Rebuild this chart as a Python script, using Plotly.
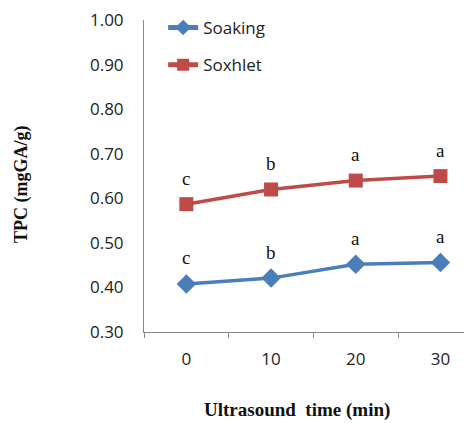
import plotly.graph_objects as go

time_min = [0, 10, 20, 30]
soaking = [0.408, 0.421, 0.452, 0.456]
soaking_err = [0.004, 0.004, 0.012, 0.004]
soxhlet = [0.587, 0.620, 0.640, 0.650]
soxhlet_err = [0.004, 0.004, 0.004, 0.004]
soaking_letters = ["c", "b", "a", "a"]
soxhlet_letters = ["c", "b", "a", "a"]
y_ticks = [0.30, 0.40, 0.50, 0.60, 0.70, 0.80, 0.90, 1.00]

blue = "#4A7EBB"
red = "#BE4B48"

fig = go.Figure()
fig.add_trace(go.Scatter(
    x=time_min, y=soaking, name="Soaking", mode="lines+markers",
    line=dict(color=blue, width=3.5),
    marker=dict(symbol="diamond", size=15, color=blue),
    error_y=dict(type="data", array=soaking_err, color="#222222", thickness=1.5, width=3),
    legendgroup="a",
))
fig.add_trace(go.Scatter(
    x=time_min, y=soxhlet, name="Soxhlet", mode="lines+markers",
    line=dict(color=red, width=3.5),
    marker=dict(symbol="square", size=14, color=red),
    error_y=dict(type="data", array=soxhlet_err, color="#222222", thickness=1.5, width=3),
    legendgroup="b",
))

for xs, ys, labs in [(time_min, soaking, soaking_letters), (time_min, soxhlet, soxhlet_letters)]:
    for x, y, t in zip(xs, ys, labs):
        fig.add_annotation(x=x, y=y, text=t, showarrow=False, yshift=26,
                           font=dict(family="Liberation Serif", size=19, color="#111111"))

fig.add_annotation(xref="paper", yref="paper", x=-0.366, y=0.471, text="<b>TPC (mgGA/g)</b>",
                   textangle=-90, showarrow=False, xanchor="center", yanchor="middle",
                   font=dict(family="Liberation Serif", size=18, color="#111111"))
fig.add_annotation(xref="paper", yref="paper", x=0.455, y=-0.25, text="<b>Ultrasound  time (min)</b>",
                   showarrow=False, xanchor="center", yanchor="middle",
                   font=dict(family="Liberation Serif", size=19, color="#111111"))

fig.update_layout(
    width=472, height=423,
    margin=dict(l=136, r=0, t=12, b=99),
    paper_bgcolor="white", plot_bgcolor="white",
    showlegend=True,
    legend=dict(x=0.057, y=1.032, xanchor="left", yanchor="top", bgcolor="rgba(0,0,0,0)",
                font=dict(family="Open Sans", size=17, color="#222222"),
                traceorder="grouped", tracegroupgap=12, itemsizing="constant"),
    xaxis=dict(range=[-5, 34.67], tickvals=time_min, ticktext=[str(t) for t in time_min],
               ticks="", showgrid=False, zeroline=False,
               showline=True, linecolor="#888888", linewidth=1,
               ticklabelstandoff=12,
               tickfont=dict(family="Open Sans", size=17, color="#222222"),
               minor=dict(tick0=-5, dtick=10, ticks="outside", ticklen=5, tickcolor="#888888", showgrid=False)),
    yaxis=dict(range=[0.30, 1.0005], tickvals=y_ticks, ticktext=[f"{v:.2f}" for v in y_ticks],
               ticks="", showgrid=False, zeroline=False,
               showline=True, linecolor="#888888", linewidth=1,
               ticklabelstandoff=16, ticklabeloverflow="allow",
               tickfont=dict(family="Open Sans", size=17, color="#222222")),
)

fig.write_html("out.html")
